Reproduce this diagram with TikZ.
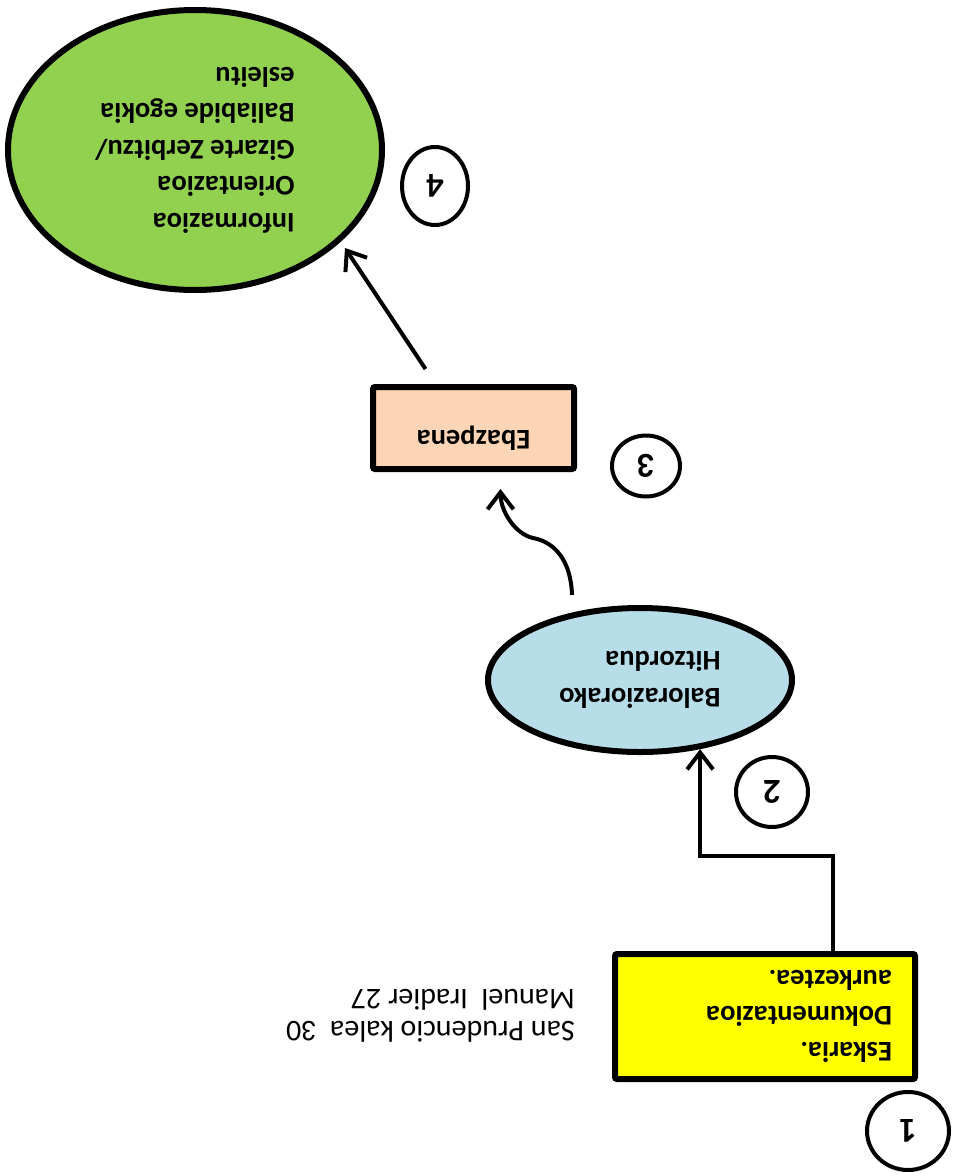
\documentclass[tikz,border=0pt]{standalone}
\usepackage{fontspec}
\setmainfont{Carlito}
\usetikzlibrary{arrows.meta,shapes.geometric,calc}
\definecolor{yellowc}{HTML}{FFFF00}
\definecolor{peachc}{HTML}{FBD5B5}
\definecolor{bluec}{HTML}{B7DEE8}
\definecolor{greenc}{HTML}{92D050}
\begin{document}
\begin{tikzpicture}[x=1pt,y=-1pt,
  procbox/.style={rectangle, draw=black, line width=6pt, rounded corners=2pt, inner sep=0pt,
    font=\bfseries\fontsize{28.5}{36}\selectfont},
  ovalnode/.style={ellipse, draw=black, line width=6pt, inner sep=0pt, align=left,
    font=\bfseries\fontsize{28.5}{36.5}\selectfont},
  numc/.style={ellipse, draw=black, line width=4pt, inner sep=0pt,
    font=\bfseries\fontsize{35}{35}\selectfont},
  arr/.style={line width=4pt, -{Straight Barb[length=17pt,width=26pt]}}]
\useasboundingbox (0,0) rectangle (955,1176);
\begin{scope}[shift={(955,1176)}, rotate=180, transform shape]
  % nodes (drawn upright in the reading frame, then turned by 180 degrees)
  \node[procbox, fill=yellowc, minimum width=300pt, minimum height=125pt,
        text width=254pt, align=left] (yel) at (190,159.5)
        {Eskaria.\\Dokumentazioa\\aurkeztea.};
  \node[anchor=west, align=left, inner sep=0pt, font=\fontsize{30}{32}\selectfont]
        (addr) at (380,160) {San Prudencio kalea~~30\\Manuel~~Iradier 27};
  \node[numc, minimum width=82pt, minimum height=78pt] (c1) at (47,45) {1};

  \node[ovalnode, fill=bluec, minimum width=304pt, minimum height=144pt]
        (blue) at (315,496) {Baloraziorako\\Hitzordua};
  \node[numc, minimum width=72pt, minimum height=70pt] (c2) at (183,384) {2};

  \node[procbox, fill=peachc, minimum width=201pt, minimum height=82pt,
        text height=20pt, text depth=24pt] (ebz) at (481.5,748) {Ebazpena};
  \node[numc, minimum width=68pt, minimum height=61pt] (c3) at (309,710) {3};

  \node[ovalnode, fill=greenc, minimum width=374pt, minimum height=280pt]
        (green) at (760,1026)
        {Informazioa\\Orientazioa\\Gizarte Zerbitzu/\\Baliabide egokia\\esleitu};
  \node[numc, minimum width=66pt, minimum height=78pt] (c4) at (520,990) {4};

  % connectors
  \draw[arr] ($(yel.south)+(-68,0)$) -- ++(0,95) -| (blue.131);
  \coordinate (bend) at (422,638);
  \draw[arr] ($(blue.south)+(68,10)$) .. controls +(1,34) and +(-22,-4) .. (bend)
        .. controls +(18,4) and +(0,-22) .. ($(ebz.north)+(-27,-17)$);
  \draw[arr] ($(ebz.south)+(48,15)$) -- ($(green.center)+(-150,-98)$);
\end{scope}
\end{tikzpicture}
\end{document}
